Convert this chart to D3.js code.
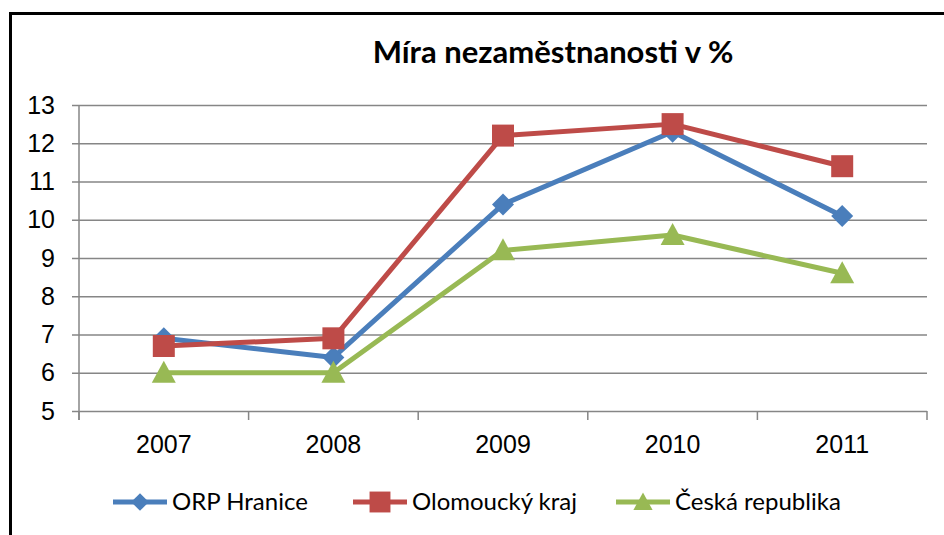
<!DOCTYPE html>
<html>
<head>
<meta charset="utf-8">
<script src="https://cdn.jsdelivr.net/npm/d3@7"></script>
<style>
  html, body { margin: 0; padding: 0; background: #fff; }
  svg { display: block; font-family: Lato, "Open Sans", sans-serif; }
</style>
</head>
<body>
<svg class="canvas" width="944" height="535"></svg>
<script>
'use strict';

const years = ['2007', '2008', '2009', '2010', '2011'];
const orpHranice = [6.9, 6.4, 10.4, 12.3, 10.1];
const olomouckyKraj = [6.7, 6.9, 12.2, 12.5, 11.4];
const ceskaRepublika = [6.0, 6.0, 9.2, 9.6, 8.6];
const yTicks = [5, 6, 7, 8, 9, 10, 11, 12, 13];
const seriesNames = ['ORP Hranice', 'Olomoucký kraj', 'Česká republika'];

const series = [
  { name: seriesNames[0], values: orpHranice, color: '#4a7ebb', marker: 'diamond' },
  { name: seriesNames[1], values: olomouckyKraj, color: '#be4b48', marker: 'square' },
  { name: seriesNames[2], values: ceskaRepublika, color: '#98b954', marker: 'triangle' }
];

const svg = d3.select('.canvas');
const plot = { left: 79, right: 927, top: 105, bottom: 411 };

// frame round the chart
svg.append('rect')
  .attr('x', 10.5).attr('y', 13.5)
  .attr('width', 1000).attr('height', 600)
  .attr('fill', 'none').attr('stroke', '#000').attr('stroke-width', 3);

svg.append('text')
  .attr('x', 553).attr('y', 63)
  .attr('text-anchor', 'middle')
  .style('font-size', '31px').style('font-weight', 'bold').style('fill', '#000')
  .text('Míra nezaměstnanosti v %');

const x = d3.scaleBand().domain(years).range([plot.left, plot.right]);
const y = d3.scaleLinear().domain([5, 13]).range([plot.bottom, plot.top]);

// gridlines + y axis
const yAxis = svg.append('g')
  .attr('transform', `translate(${plot.left},0)`)
  .call(d3.axisLeft(y).tickValues(yTicks).tickSize(-(plot.right - plot.left)).tickPadding(24));
yAxis.select('.domain').remove();
yAxis.selectAll('.tick line').attr('stroke', '#868686').attr('stroke-width', 1.5).attr('x1', -7);
yAxis.selectAll('.tick text').style('font-size', '25px').attr('fill', '#000').attr('font-family', null);
svg.append('line')
  .attr('x1', plot.left).attr('x2', plot.left)
  .attr('y1', plot.top).attr('y2', plot.bottom + 9)
  .attr('stroke', '#868686').attr('stroke-width', 1.5);

// x axis category ticks
const xAxis = svg.append('g')
  .attr('transform', `translate(0,${plot.bottom})`)
  .call(d3.axisBottom(x).tickSize(0).tickPadding(24));
xAxis.select('.domain').remove();
xAxis.selectAll('.tick text').style('font-size', '25px').attr('fill', '#000').attr('font-family', null);
svg.append('g').selectAll('line')
  .data(years.concat(['end']))
  .join('line')
  .attr('x1', (d, i) => plot.left + i * x.step())
  .attr('x2', (d, i) => plot.left + i * x.step())
  .attr('y1', plot.bottom).attr('y2', plot.bottom + 9)
  .attr('stroke', '#868686').attr('stroke-width', 1.5);

function markerPath(kind) {
  if (kind === 'diamond') return 'M0,-11L11,0L0,11L-11,0Z';
  if (kind === 'square') return 'M-11,-11H11V11H-11Z';
  return 'M0,-12L12,10H-12Z';
}

const cx = d => x(d) + x.bandwidth() / 2;
const line = d3.line().x((v, i) => cx(years[i])).y(v => y(v));

series.forEach(s => {
  const g = svg.append('g');
  g.append('path')
    .attr('d', line(s.values))
    .attr('fill', 'none').attr('stroke', s.color).attr('stroke-width', 5)
    .attr('stroke-linejoin', 'round');
  g.selectAll('path.m')
    .data(s.values)
    .join('path')
    .attr('class', 'm')
    .attr('d', markerPath(s.marker))
    .attr('transform', (v, i) => `translate(${cx(years[i])},${y(v)})`)
    .attr('fill', s.color);
});

// legend
const legendX = [113, 353, 616];
const legend = svg.append('g').selectAll('g')
  .data(series)
  .join('g')
  .attr('transform', (d, i) => `translate(${legendX[i]},502)`);
legend.append('line')
  .attr('x1', 0).attr('x2', 54)
  .attr('stroke', d => d.color).attr('stroke-width', 5);
legend.append('path')
  .attr('d', d => markerPath(d.marker))
  .attr('transform', d => `translate(27,0) scale(${d.marker === 'square' ? 0.95 : 0.8})`)
  .attr('fill', d => d.color);
legend.append('text')
  .attr('x', 59).attr('y', 8)
  .style('font-size', '24px').style('fill', '#000')
  .text(d => d.name);
</script>
</body>
</html>
